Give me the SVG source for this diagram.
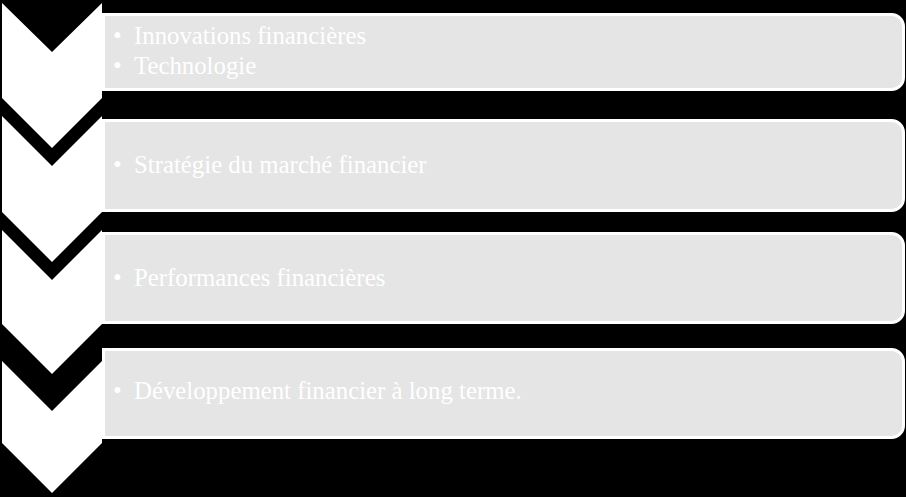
<svg xmlns="http://www.w3.org/2000/svg" width="906" height="497" viewBox="0 0 906 497">
<style>
.chev{fill:#ffffff;}
.box{fill:#e5e5e5;stroke:#ffffff;stroke-width:3;}
.t{font-family:"Liberation Serif","Times New Roman",serif;font-size:24.8px;fill:#ffffff;}
</style>
<rect x="0" y="0" width="906" height="497" fill="#000000"/>
<g id="connectors"></g>
<g id="step1">
<path class="chev" d="M2 3 L52 52 L102 3 L102 98 L52 148 L2 98 Z"/>
<path class="box" d="M103.5 14.5 H891.5 A12 12 0 0 1 903.5 26.5 V77.5 A12 12 0 0 1 891.5 89.5 H103.5 Z"/>
<text class="t" x="113" y="44">•</text>
<text class="t" x="134" y="44">Innovations financières</text>
<text class="t" x="113" y="74">•</text>
<text class="t" x="134" y="74">Technologie</text>
</g>
<g id="step2">
<path class="chev" d="M2 116 L52 166 L102 116 L102 212 L52 262 L2 212 Z"/>
<path class="box" d="M103.5 120.5 H891.5 A12 12 0 0 1 903.5 132.5 V198.5 A12 12 0 0 1 891.5 210.5 H103.5 Z"/>
<text class="t" x="113" y="173">•</text>
<text class="t" x="134" y="173">Stratégie du marché financier</text>
</g>
<g id="step3">
<path class="chev" d="M2 230 L52 280 L102 230 L102 324 L52 374 L2 324 Z"/>
<path class="box" d="M103.5 233.5 H891.5 A12 12 0 0 1 903.5 245.5 V310.5 A12 12 0 0 1 891.5 322.5 H103.5 Z"/>
<text class="t" x="113" y="286">•</text>
<text class="t" x="134" y="286">Performances financières</text>
</g>
<g id="step4">
<path class="chev" d="M2 361 L52 411 L102 361 L102 443 L52 493 L2 443 Z"/>
<path class="box" d="M103.5 349.5 H891.5 A12 12 0 0 1 903.5 361.5 V425.5 A12 12 0 0 1 891.5 437.5 H103.5 Z"/>
<text class="t" x="113" y="399">•</text>
<text class="t" x="134" y="399">Développement financier à long terme.</text>
</g>
</svg>
